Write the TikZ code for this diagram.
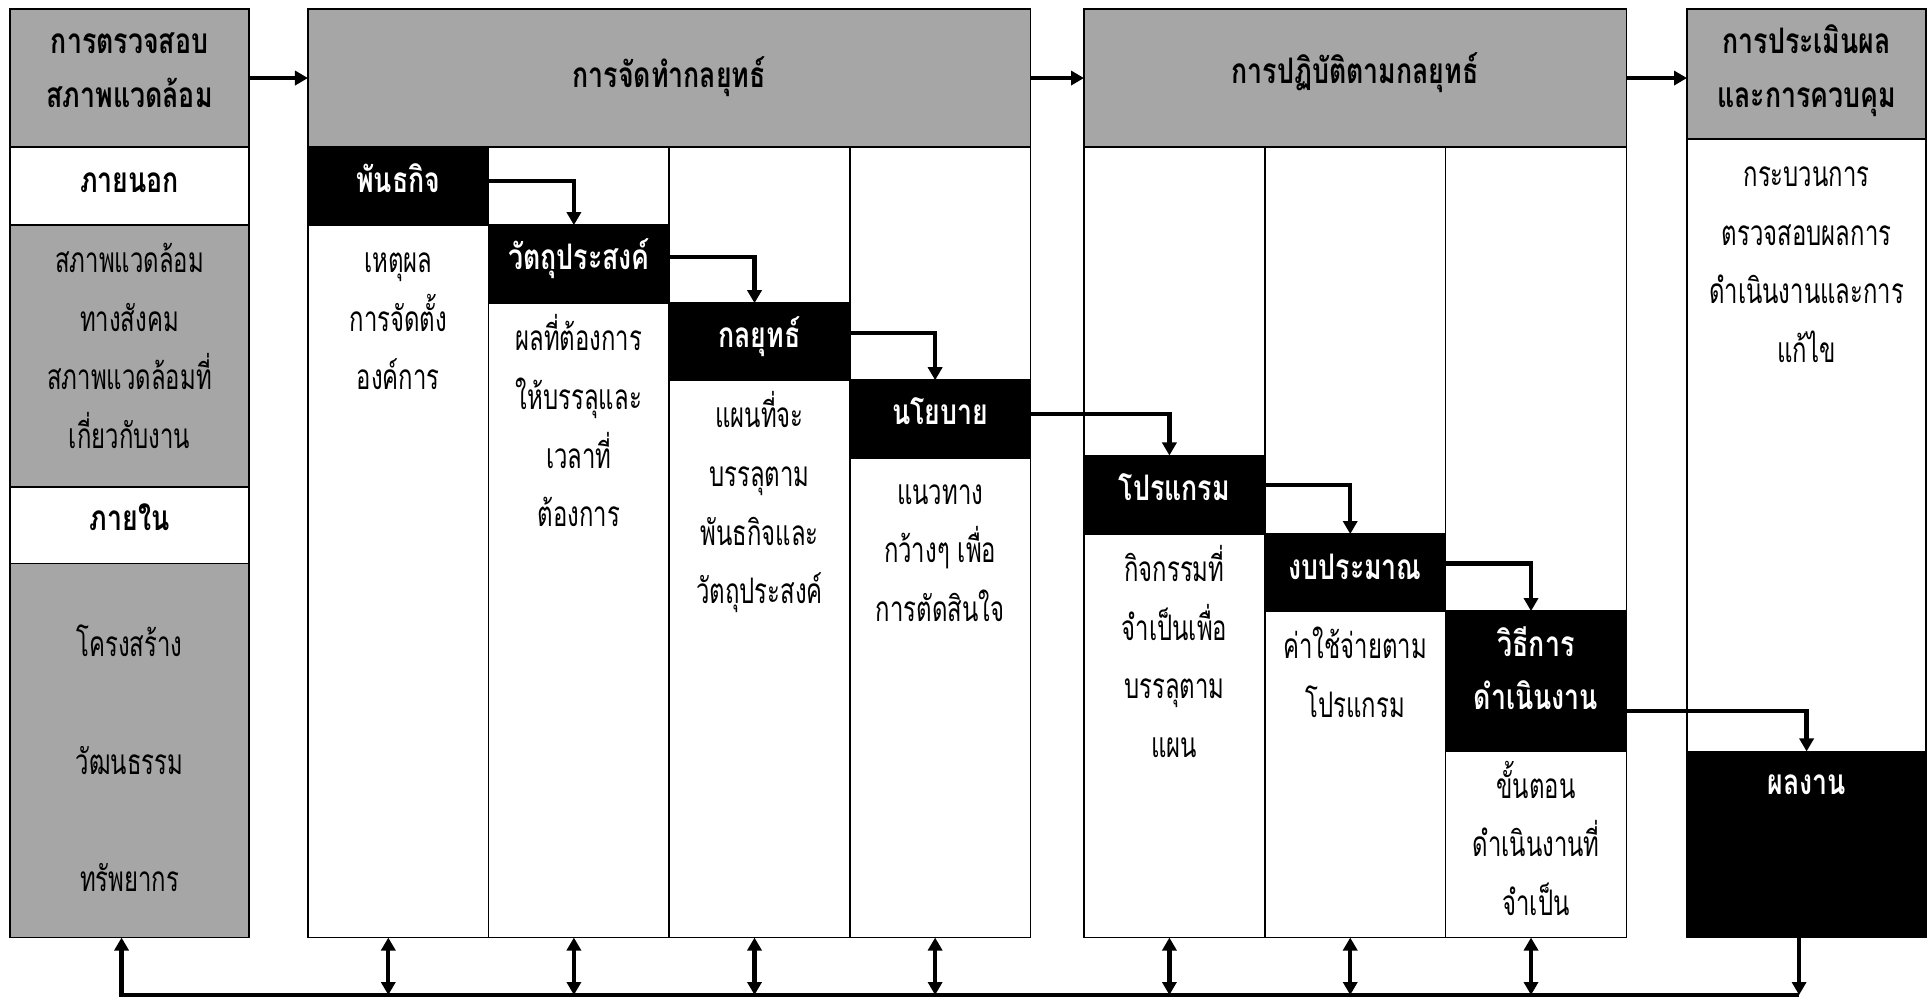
\documentclass[tikz,border=0pt]{standalone}
\usepackage{fontspec}
\usetikzlibrary{positioning, arrows.meta}
\newfontfamily\thai[Script=Thai, FakeStretch=0.68]{Loma}
\newfontfamily\thaibf[Script=Thai, FakeStretch=0.76]{Loma}
\definecolor{boxgray}{RGB}{166,166,166}
% fixed height for the first line of a cell text
\newcommand{\tstrut}{\rule{0pt}{12pt}}

\tikzstyle{cell} = [rectangle, draw=black, line width=0.45pt, anchor=north west, inner sep=0pt, outer sep=0pt]
\tikzstyle{graycell} = [cell, fill=boxgray]
\tikzstyle{whitecell} = [cell, fill=white]
\tikzstyle{blackcell} = [cell, fill=black]
\tikzstyle{txt} = [anchor=north, align=center, inner sep=0pt, font=\thai\fontsize{10}{16.7}\selectfont]
\tikzstyle{hdtxt} = [txt, font=\thaibf\bfseries\fontsize{10}{15.2}\selectfont]
\tikzstyle{wtxt} = [hdtxt, text=white]
\tikzstyle{arrow} = [line width=1.2pt, ->, >={Triangle[length=3.7pt, width=4pt]}]
\tikzstyle{twoway} = [arrow, <->]

\begin{document}
\begin{tikzpicture}[x=0.01cm, y=-0.01cm]

    \fill[white, use as bounding box] (0,0) rectangle (1928,1000);

    % environment scanning
    \node (envhd) [graycell, minimum width=2.39cm, minimum height=1.38cm] at (10,9) {};
    \node (extrow) [whitecell, minimum width=2.39cm, minimum height=0.78cm] at (envhd.south west) {};
    \node (extcell) [graycell, minimum width=2.39cm, minimum height=2.615cm] at (extrow.south west) {};
    \node (introw) [whitecell, minimum width=2.39cm, minimum height=0.765cm] at (extcell.south west) {};
    \node (intcell) [graycell, minimum width=2.39cm, minimum height=3.74cm] at (introw.south west) {};

    \node (envtxt) [hdtxt] at ([yshift=-0.02cm]envhd.north) {\tstrut การตรวจสอบ\\สภาพแวดล้อม};
    \node (exttxt) [hdtxt, anchor=base] at ([yshift=-0.06cm]extrow.center) {ภายนอก};
    \node (extbody) [txt] at ([yshift=-0.045cm]extcell.north) {\tstrut สภาพแวดล้อม\\ทางสังคม\\สภาพแวดล้อมที่\\เกี่ยวกับงาน};
    \node (inttxt) [hdtxt, anchor=base] at ([yshift=-0.055cm]introw.center) {ภายใน};
    \node (intbody) [txt] at ([yshift=-0.503cm]intcell.north) {\tstrut โครงสร้าง\\ \\วัฒนธรรม\\ \\ทรัพยากร};

    % strategy formulation
    \node (formhd) [graycell, minimum width=7.22cm, minimum height=1.38cm] at (308,9) {};
    \node (colA) [whitecell, minimum width=1.805cm, minimum height=7.9cm] at (formhd.south west) {};
    \node (colB) [whitecell, minimum width=1.805cm, minimum height=7.9cm] at (colA.north east) {};
    \node (colC) [whitecell, minimum width=1.805cm, minimum height=7.9cm] at (colB.north east) {};
    \node (colD) [whitecell, minimum width=1.805cm, minimum height=7.9cm] at (colC.north east) {};

    \node (mission) [blackcell, minimum width=1.805cm, minimum height=0.78cm] at (colA.north west) {};
    \node (objective) [blackcell, minimum width=1.805cm, minimum height=0.78cm] at (mission.south east) {};
    \node (strategy) [blackcell, minimum width=1.805cm, minimum height=0.77cm] at (objective.south east) {};
    \node (policy) [blackcell, minimum width=1.805cm, minimum height=0.78cm] at (strategy.south east) {};

    \node (formtxt) [hdtxt, anchor=base] at ([yshift=-0.095cm]formhd.center) {การจัดทำกลยุทธ์};
    \node (missiontxt) [wtxt, anchor=base] at ([yshift=-0.06cm]mission.center) {พันธกิจ};
    \node (missionbody) [txt] at ([yshift=-0.045cm]mission.south) {\tstrut เหตุผล\\การจัดตั้ง\\องค์การ};
    \node (objectivetxt) [wtxt, anchor=base] at ([yshift=-0.055cm]objective.center) {วัตถุประสงค์};
    \node (objectivebody) [txt] at ([yshift=-0.045cm]objective.south) {\tstrut ผลที่ต้องการ\\ให้บรรลุและ\\เวลาที่\\ต้องการ};
    \node (strategytxt) [wtxt, anchor=base] at ([yshift=-0.055cm]strategy.center) {กลยุทธ์};
    \node (strategybody) [txt] at ([yshift=-0.045cm]strategy.south) {\tstrut แผนที่จะ\\บรรลุตาม\\พันธกิจและ\\วัตถุประสงค์};
    \node (policytxt) [wtxt, anchor=base] at ([yshift=-0.055cm]policy.center) {นโยบาย};
    \node (policybody) [txt] at ([yshift=-0.03cm]policy.south) {\tstrut แนวทาง\\กว้างๆ เพื่อ\\การตัดสินใจ};

    % strategy implementation
    \node (implhd) [graycell, minimum width=5.42cm, minimum height=1.38cm] at (1084,9) {};
    \node (colE) [whitecell, minimum width=1.807cm, minimum height=7.9cm] at (implhd.south west) {};
    \node (colF) [whitecell, minimum width=1.807cm, minimum height=7.9cm] at (colE.north east) {};
    \node (colG) [whitecell, minimum width=1.807cm, minimum height=7.9cm] at (colF.north east) {};

    \node (program) [blackcell, minimum width=1.807cm, minimum height=0.785cm] at (1084,455.5) {};
    \node (budget) [blackcell, minimum width=1.807cm, minimum height=0.77cm] at (program.south east) {};
    \node (procedure) [blackcell, minimum width=1.807cm, minimum height=1.40cm] at (budget.south east) {};

    \node (impltxt) [hdtxt, anchor=base] at ([yshift=-0.058cm]implhd.center) {การปฏิบัติตามกลยุทธ์};
    \node (programtxt) [wtxt, anchor=base] at ([yshift=-0.058cm]program.center) {โปรแกรม};
    \node (programbody) [txt] at ([yshift=-0.045cm]program.south) {\tstrut กิจกรรมที่\\จำเป็นเพื่อ\\บรรลุตาม\\แผน};
    \node (budgettxt) [wtxt, anchor=base] at ([yshift=-0.07cm]budget.center) {งบประมาณ};
    \node (budgetbody) [txt] at ([yshift=-0.045cm]budget.south) {\tstrut ค่าใช้จ่ายตาม\\โปรแกรม};
    \node (proceduretxt) [wtxt] at ([yshift=-0.023cm]procedure.north) {\tstrut วิธีการ\\ดำเนินงาน};
    \node (procedurebody) [txt] at ([yshift=-0.04cm]procedure.south) {\tstrut ขั้นตอน\\ดำเนินงานที่\\จำเป็น};

    % evaluation and control
    \node (evalhd) [graycell, minimum width=2.39cm, minimum height=1.30cm] at (1687,9) {};
    \node (evalcell) [whitecell, minimum width=2.39cm, minimum height=6.12cm] at (evalhd.south west) {};
    \node (result) [blackcell, minimum width=2.39cm, minimum height=1.86cm] at (evalcell.south west) {};

    \node (evaltxt) [hdtxt] at ([yshift=-0.02cm]evalhd.north) {\tstrut การประเมินผล\\และการควบคุม};
    \node (evalbody) [txt] at ([yshift=-0.045cm]evalhd.south) {\tstrut กระบวนการ\\ตรวจสอบผลการ\\ดำเนินงานและการ\\แก้ไข};
    \node (resulttxt) [wtxt, anchor=base] at ([yshift=-0.435cm]result.north) {ผลงาน};

    % stage arrows
    \draw[arrow] (envhd.east) -- (formhd.west);
    \draw[arrow] (formhd.east) -- (implhd.west);
    \draw[arrow] (implhd.east) -- (implhd.east -| evalhd.west);

    % step arrows
    \draw[arrow] ([yshift=0.05cm]mission.east) -| ([xshift=-0.05cm]objective.north);
    \draw[arrow] ([yshift=0.07cm]objective.east) -| ([xshift=-0.05cm]strategy.north);
    \draw[arrow] ([yshift=0.09cm]strategy.east) -| ([xshift=-0.05cm]policy.north);
    \draw[arrow] ([yshift=0.05cm]policy.east) -| ([xshift=-0.05cm]program.north);
    \draw[arrow] ([yshift=0.1cm]program.east) -| ([xshift=-0.05cm]budget.north);
    \draw[arrow] ([yshift=0.09cm]budget.east) -| ([xshift=-0.05cm]procedure.north);
    \draw[arrow] ([yshift=-0.3cm]procedure.east) -| (result.north);

    % feedback
    \coordinate (bus) at (0,995);
    \draw[arrow] ([xshift=-0.075cm]result.south) -- ([xshift=-0.075cm]result.south |- bus);
    \draw[arrow, line width=1.4pt] ([xshift=-0.075cm]result.south |- bus) -- ([xshift=-0.08cm]intcell.south |- bus) -- ([xshift=-0.08cm]intcell.south);
    \draw[twoway] ([xshift=-0.1cm]colA.south |- bus) -- ([xshift=-0.1cm]colA.south);
    \draw[twoway] ([xshift=-0.05cm]colB.south |- bus) -- ([xshift=-0.05cm]colB.south);
    \draw[twoway] ([xshift=-0.05cm]colC.south |- bus) -- ([xshift=-0.05cm]colC.south);
    \draw[twoway] ([xshift=-0.05cm]colD.south |- bus) -- ([xshift=-0.05cm]colD.south);
    \draw[twoway] ([xshift=-0.05cm]colE.south |- bus) -- ([xshift=-0.05cm]colE.south);
    \draw[twoway] ([xshift=-0.05cm]colF.south |- bus) -- ([xshift=-0.05cm]colF.south);
    \draw[twoway] ([xshift=-0.05cm]colG.south |- bus) -- ([xshift=-0.05cm]colG.south);

\end{tikzpicture}
\end{document}
